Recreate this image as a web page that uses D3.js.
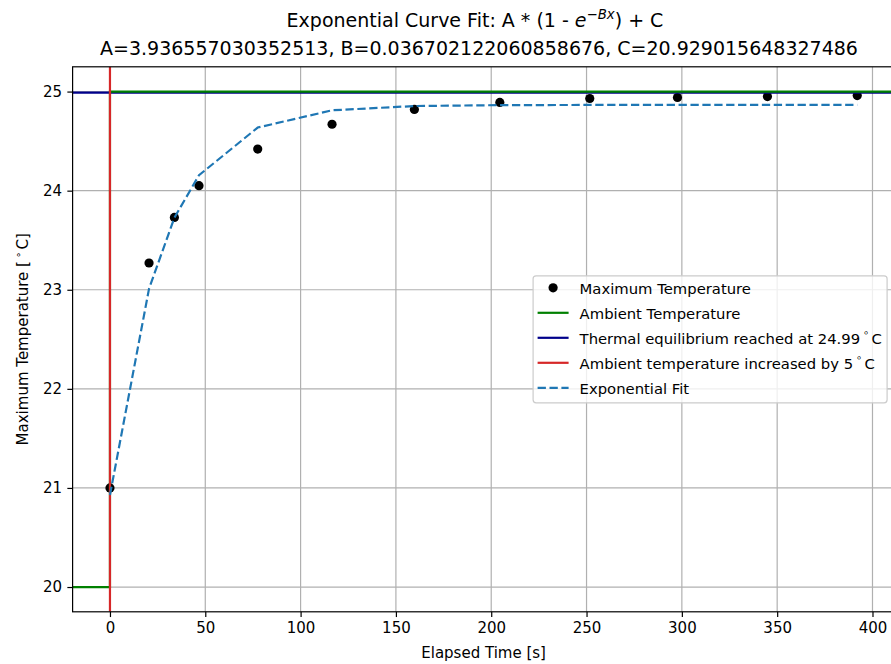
<!DOCTYPE html>
<html>
<head>
<meta charset="utf-8">
<script src="https://cdn.jsdelivr.net/npm/d3@7"></script>
<style>
  html, body { margin: 0; padding: 0; background: #fff; overflow: hidden; }
  svg { display: block; font-family: "DejaVu Sans", sans-serif; }
</style>
</head>
<body>
<svg id="chart" width="891" height="664"></svg>
<script>
// ---- data ----
const elapsedTimes = [0, 20.5, 33.8, 46.7, 77.5, 116.5, 159.7, 204.5, 251.7, 297.7, 344.9, 392];
const maxTemperatures = [21.0, 23.27, 23.73, 24.05, 24.42, 24.67, 24.82, 24.89, 24.93, 24.94, 24.95, 24.96];
const fitTemperatures = [20.929, 23.011, 23.727, 24.156, 24.637, 24.811, 24.854, 24.863, 24.865, 24.866, 24.866, 24.866];
const ambientBefore = 20;
const ambientAfter = 25;
const equilibriumTemp = 24.99;
const stepTime = 0;
const xTickValues = [0, 50, 100, 150, 200, 250, 300, 350, 400];
const yTickValues = [20, 21, 22, 23, 24, 25];
const titleLine2 = "A=3.936557030352513, B=0.036702122060858676, C=20.929015648327486";

// ---- layout ----
const svg = d3.select("#chart");
const W = 891, H = 664;
const plotLeft = 72.6, plotRight = 894.6, plotTop = 66.8, plotBottom = 611.8;
const FS = 15;

const x = d3.scaleLinear().domain([-19.6, 411.6]).range([plotLeft, plotRight]);
const y = d3.scaleLinear().domain([19.75, 25.25]).range([plotBottom, plotTop]);

svg.append("rect").attr("width", W).attr("height", H).attr("fill", "#fff");

svg.append("clipPath").attr("id", "clip").append("rect")
  .attr("x", plotLeft).attr("y", plotTop)
  .attr("width", plotRight - plotLeft).attr("height", plotBottom - plotTop);

// grid
const grid = svg.append("g").attr("clip-path", "url(#clip)");
grid.selectAll("line.gx").data(xTickValues).join("line")
  .attr("x1", d => x(d)).attr("x2", d => x(d))
  .attr("y1", plotTop).attr("y2", plotBottom)
  .attr("stroke", "#b0b0b0").attr("stroke-width", 1.2);
grid.selectAll("line.gy").data(yTickValues).join("line")
  .attr("x1", plotLeft).attr("x2", plotRight)
  .attr("y1", d => y(d)).attr("y2", d => y(d))
  .attr("stroke", "#b0b0b0").attr("stroke-width", 1.2);

const plot = svg.append("g").attr("clip-path", "url(#clip)");

// scatter
const points = elapsedTimes.map((t, i) => ({t, v: maxTemperatures[i]}));
plot.selectAll("circle").data(points).join("circle")
  .attr("cx", d => x(d.t)).attr("cy", d => y(d.v)).attr("r", 4.6)
  .attr("fill", "#000");

// equilibrium (blue) line
const xd = x.domain();
plot.append("line")
  .attr("x1", x(xd[0])).attr("x2", x(xd[1]))
  .attr("y1", y(equilibriumTemp)).attr("y2", y(equilibriumTemp))
  .attr("stroke", "#00008b").attr("stroke-width", 2.2);

// ambient temperature (green) step
const ambientPath = [[xd[0], ambientBefore], [stepTime, ambientBefore], [stepTime, ambientAfter], [xd[1], ambientAfter]];
plot.append("path")
  .attr("d", d3.line().x(d => x(d[0])).y(d => y(d[1]))(ambientPath))
  .attr("fill", "none").attr("stroke", "#008000").attr("stroke-width", 2.2);

// red vertical at step
const yd = y.domain();
plot.append("line")
  .attr("x1", x(stepTime)).attr("x2", x(stepTime))
  .attr("y1", y(yd[0])).attr("y2", y(yd[1]))
  .attr("stroke", "#d62728").attr("stroke-width", 2.2);

// fit
const fitPts = elapsedTimes.map((t, i) => [t, fitTemperatures[i]]);
plot.append("path")
  .attr("d", d3.line().x(d => x(d[0])).y(d => y(d[1]))(fitPts))
  .attr("fill", "none").attr("stroke", "#1f77b4").attr("stroke-width", 2.2)
  .attr("stroke-dasharray", "8.3,3.6");

// axes
const xAxis = d3.axisBottom(x).tickValues(xTickValues).tickSize(5.25).tickPadding(5.25).tickFormat(d3.format("d"));
const yAxis = d3.axisLeft(y).tickValues(yTickValues).tickSize(5.25).tickPadding(5.25).tickFormat(d3.format("d"));
const gx = svg.append("g").attr("transform", `translate(0,${plotBottom})`).call(xAxis);
const gy = svg.append("g").attr("transform", `translate(${plotLeft},0)`).call(yAxis);
[gx, gy].forEach(g => {
  g.select(".domain").remove();
  g.selectAll(".tick line").attr("stroke", "#000").attr("stroke-width", 1.2);
  g.selectAll(".tick text").attr("fill", "#000").attr("font-size", FS).attr("font-family", "DejaVu Sans");
});

// spines
svg.append("rect").attr("x", plotLeft).attr("y", plotTop)
  .attr("width", plotRight - plotLeft).attr("height", plotBottom - plotTop)
  .attr("fill", "none").attr("stroke", "#000").attr("stroke-width", 1.2);

// axis labels
svg.append("text").attr("x", (plotLeft + plotRight) / 2).attr("y", 658)
  .attr("text-anchor", "middle").attr("font-size", FS).text("Elapsed Time [s]");
const ylab = svg.append("text")
  .attr("transform", `translate(28,${(plotTop + plotBottom) / 2}) rotate(-90)`)
  .attr("text-anchor", "middle").attr("font-size", FS);
ylab.append("tspan").text("Maximum Temperature [");
ylab.append("tspan").attr("font-size", FS * 0.7).attr("dy", -6).attr("dx", 3).text("∘");
ylab.append("tspan").attr("dy", 6).attr("dx", 2).text("C]");

// title
const cx = 479;
const TFS = 19;
const t1 = svg.append("text").attr("x", 475).attr("y", 27).attr("text-anchor", "middle").attr("font-size", TFS);
t1.append("tspan").text("Exponential Curve Fit: A * (1 - ");
t1.append("tspan").attr("font-style", "italic").text("e");
t1.append("tspan").attr("font-style", "italic").attr("font-size", TFS * 0.7).attr("dy", -8).text("−Bx");
t1.append("tspan").attr("dy", 8).text(") + C");
svg.append("text").attr("x", cx).attr("y", 55).attr("text-anchor", "middle")
  .attr("font-size", TFS).text(titleLine2);

// legend
const LFS = 14.8;
const legendItems = [
  {type: "dot", color: "#000", label: ["Maximum Temperature"]},
  {type: "line", color: "#008000", label: ["Ambient Temperature"]},
  {type: "line", color: "#00008b", label: ["Thermal equilibrium reached at 24.99", "C"]},
  {type: "line", color: "#d62728", label: ["Ambient temperature increased by 5", "C"]},
  {type: "dash", color: "#1f77b4", label: ["Exponential Fit"]}
];
const lg = svg.append("g");
const rowH = 25;
const pad = 4.5, handleLen = 31, handlePad = 11;
const boxRight = plotRight - 7.5;
const boxW = 354;
const boxH = 127;
const boxLeft = boxRight - boxW;
const boxTop = (plotTop + plotBottom) / 2 - boxH / 2;
lg.append("rect")
  .attr("x", boxLeft).attr("y", boxTop).attr("width", boxW).attr("height", boxH)
  .attr("rx", 3).attr("fill", "#fff").attr("fill-opacity", 0.8)
  .attr("stroke", "#cccccc").attr("stroke-width", 1.2);
legendItems.forEach((it, i) => {
  const cy = boxTop + 12 + rowH * i;
  const hx0 = boxLeft + pad, hx1 = hx0 + handleLen;
  if (it.type === "dot") {
    lg.append("circle").attr("cx", (hx0 + hx1) / 2).attr("cy", cy).attr("r", 4.6).attr("fill", it.color);
  } else {
    lg.append("line").attr("x1", hx0).attr("x2", hx1).attr("y1", cy).attr("y2", cy)
      .attr("stroke", it.color).attr("stroke-width", 2.2)
      .attr("stroke-dasharray", it.type === "dash" ? "8.3,3.6" : null);
  }
  const tx = lg.append("text").attr("font-size", LFS).attr("dominant-baseline", "central")
    .attr("x", hx1 + handlePad).attr("y", cy);
  tx.append("tspan").text(it.label[0]);
  if (it.label.length > 1) {
    tx.append("tspan").attr("font-size", LFS * 0.7).attr("dy", -6).attr("dx", 3).text("∘");
    tx.append("tspan").attr("dy", 6).attr("dx", 2).text(it.label[1]);
  }
});
</script>
</body>
</html>
